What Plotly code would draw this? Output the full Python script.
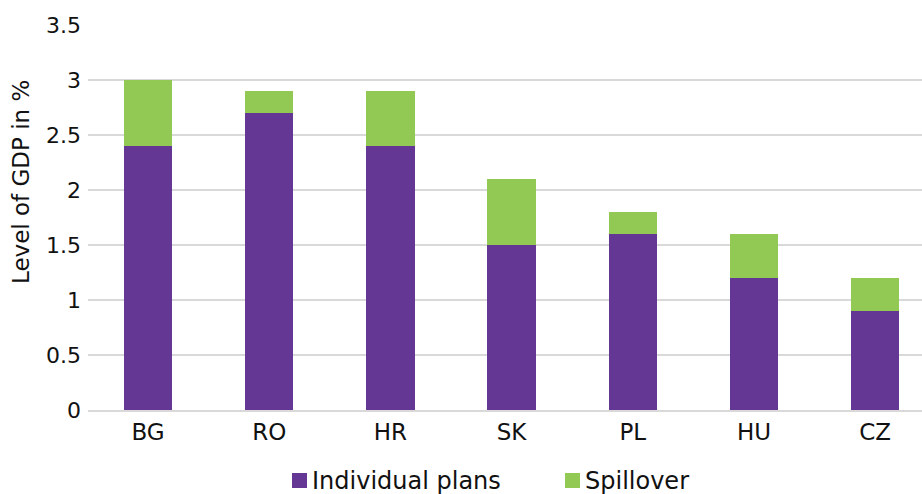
import plotly.graph_objects as go

countries = ["BG", "RO", "HR", "SK", "PL", "HU", "CZ"]
individual_plans = [2.4, 2.7, 2.4, 1.5, 1.6, 1.2, 0.9]
spillover = [0.6, 0.2, 0.5, 0.6, 0.2, 0.4, 0.3]
y_ticks = [0, 0.5, 1, 1.5, 2, 2.5, 3, 3.5]
y_tick_labels = ["0", "0.5", "1", "1.5", "2", "2.5", "3", "3.5"]
series_names = ["Individual plans", "Spillover"]
y_title = "Level of GDP in %"

PURPLE = "#643794"
GREEN = "#92C955"
FONT = "'DejaVu Sans', sans-serif"
TEXT = "#111111"

W, H = 922, 494
M_L, M_R, M_T, M_B = 88, 0, 25, 84
PW, PH = W - M_L - M_R, H - M_T - M_B


def px_x(x):
    return (x - M_L) / PW


def px_y(y):
    return (H - M_B - y) / PH


fig = go.Figure()
fig.add_trace(go.Bar(x=countries, y=individual_plans, name=series_names[0],
                     marker=dict(color=PURPLE, line=dict(width=0)), width=0.40))
fig.add_trace(go.Bar(x=countries, y=spillover, name=series_names[1],
                     marker=dict(color=GREEN, line=dict(width=0)), width=0.40))

# Legend drawn as swatches + labels below the axis
legend_items = [(series_names[0], PURPLE, 292), (series_names[1], GREEN, 565)]
for name, color, x0 in legend_items:
    fig.add_shape(type="rect", xref="paper", yref="paper",
                  x0=px_x(x0), x1=px_x(x0 + 15), y0=px_y(473), y1=px_y(488),
                  fillcolor=color, line=dict(width=0))
    fig.add_annotation(text=name, xref="paper", yref="paper",
                       x=px_x(x0 + 18), y=px_y(480.5), xanchor="left", yanchor="middle",
                       showarrow=False, font=dict(size=24, color=TEXT, family=FONT))

# Vertical y-axis title, placed a little above the plot's mid-height
fig.add_annotation(text=y_title, xref="paper", yref="paper",
                   x=px_x(21), y=px_y(182), xanchor="center", yanchor="middle",
                   textangle=-90, showarrow=False,
                   font=dict(size=23, color=TEXT, family=FONT))

fig.update_layout(
    barmode="stack",
    width=W, height=H,
    margin=dict(l=M_L, r=M_R, t=M_T, b=M_B),
    plot_bgcolor="white", paper_bgcolor="white",
    font=dict(family=FONT, size=23, color=TEXT),
    showlegend=False,
    xaxis=dict(range=[-0.495, 6.386], showgrid=False, showline=True,
               linecolor="#d9d9d9", linewidth=2, ticks="", tickfont=dict(size=23)),
    yaxis=dict(range=[0, 3.5], tickvals=y_ticks, ticktext=y_tick_labels,
               showgrid=True, gridcolor="#d9d9d9", gridwidth=1.5,
               zeroline=False, ticks="", ticklabelstandoff=6,
               tickfont=dict(size=22)),
    bargap=0.6,
)

fig.write_html("out.html")
